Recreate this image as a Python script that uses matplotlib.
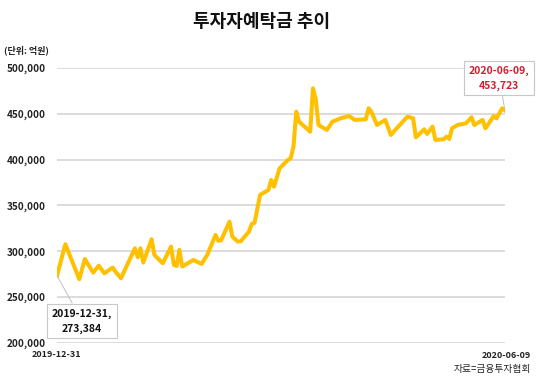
import matplotlib
matplotlib.use("Agg")
import matplotlib.pyplot as plt
import pandas as pd

plt.rcParams['font.family'] = ['Noto Sans CJK KR', 'DejaVu Sans']

# 투자자예탁금 (단위: 억원)
dates = ["2019-12-31", "2020-01-03", "2020-01-08", "2020-01-10", "2020-01-13",
         "2020-01-15", "2020-01-17", "2020-01-20", "2020-01-21", "2020-01-23",
         "2020-01-28", "2020-01-29", "2020-01-30", "2020-01-31", "2020-02-03",
         "2020-02-04", "2020-02-07", "2020-02-10", "2020-02-11", "2020-02-12",
         "2020-02-13", "2020-02-14", "2020-02-18", "2020-02-21", "2020-02-23",
         "2020-02-26", "2020-02-27", "2020-02-28", "2020-03-02", "2020-03-03",
         "2020-03-05", "2020-03-06", "2020-03-09", "2020-03-10", "2020-03-11",
         "2020-03-13", "2020-03-16", "2020-03-17", "2020-03-18", "2020-03-20",
         "2020-03-23", "2020-03-24", "2020-03-25", "2020-03-26", "2020-03-27",
         "2020-03-31", "2020-04-01", "2020-04-02", "2020-04-03", "2020-04-06",
         "2020-04-08", "2020-04-11", "2020-04-14", "2020-04-16", "2020-04-20",
         "2020-04-21", "2020-04-22", "2020-04-24", "2020-04-27", "2020-04-29",
         "2020-05-01", "2020-05-05", "2020-05-07", "2020-05-08", "2020-05-11",
         "2020-05-12", "2020-05-14", "2020-05-15", "2020-05-18", "2020-05-19",
         "2020-05-20", "2020-05-21", "2020-05-23", "2020-05-26", "2020-05-28",
         "2020-05-29", "2020-06-01", "2020-06-02", "2020-06-05", "2020-06-06",
         "2020-06-08", "2020-06-09"]
deposits = [273384, 307700, 269500, 291600, 276700,
            284300, 276000, 282200, 277800, 270500,
            303300, 293500, 303300, 287600, 313100,
            296000, 286900, 305100, 285100, 284000,
            301500, 283300, 290500, 286200, 296000,
            317800, 311300, 312000, 332300, 316000,
            310500, 310800, 321400, 329800, 331000,
            361500, 366900, 377800, 370400, 390500,
            399600, 401500, 414200, 452300, 441400,
            430500, 477800, 465800, 437800, 432400,
            441400, 445100, 447600, 443300, 444000,
            456000, 452300, 437800, 443300, 426900,
            433800, 446900, 445100, 424400, 433100,
            428000, 436000, 421500, 422200, 425000,
            422500, 434200, 437800, 439600, 446200,
            437800, 443300, 434200, 447600, 445000,
            456000, 453723]
yticks = [200000, 250000, 300000, 350000, 400000, 450000, 500000]

x = pd.to_datetime(dates)

fig = plt.figure(figsize=(5.4, 3.84), dpi=100)
ax = fig.add_axes([0.1056, 0.107, 0.8294, 0.716])

ax.plot(x, deposits, color='#FFC000', lw=2.9, solid_joinstyle='round', zorder=3)

ax.set_ylim(200000, 500000)
ax.set_xlim(x[0], x[-1])
ax.set_yticks(yticks)
ax.set_yticklabels([f"{v:,}" for v in yticks], fontsize=7.2, fontweight='bold', color='#222222')
ax.tick_params(axis='y', length=0, pad=8)
ax.set_xticks([])
ax.grid(axis='y', color='#d9d9d9', lw=1.3)
for s in ax.spines.values():
    s.set_visible(False)

# 첫 값, 마지막 값 표시
ax.annotate(f"{dates[0]},\n{deposits[0]:,}", xy=(x[0], deposits[0]),
            xytext=(x[0] + pd.Timedelta(days=9), 224000), ha='center', va='center',
            fontsize=7.5, fontweight='bold', color='#111111', linespacing=1.6,
            bbox=dict(boxstyle='square,pad=0.45', fc='white', ec='#c8c8c8', lw=0.8),
            arrowprops=dict(arrowstyle='-', color='#c0c0c0', lw=0.7,
                            shrinkA=0, shrinkB=0), zorder=5)
ax.annotate(f"{dates[-1]},\n{deposits[-1]:,}", xy=(x[-1], deposits[-1]),
            xytext=(x[-1] - pd.Timedelta(days=2), 489000), ha='center', va='center',
            fontsize=7.5, fontweight='bold', color='#D02030', linespacing=1.6,
            bbox=dict(boxstyle='square,pad=0.45', fc='white', ec='#c8c8c8', lw=0.8),
            arrowprops=dict(arrowstyle='-', color='#c0c0c0', lw=0.7,
                            shrinkA=0, shrinkB=0), zorder=5, annotation_clip=False)

fig.text(0.485, 0.943, "투자자예탁금 추이", ha='center', va='center',
         fontsize=13, fontweight='bold', color='#111111')
fig.text(0.008, 0.87, "(단위: 억원)", ha='left', va='center', fontsize=6.5,
         fontweight='bold', color='#222222')
fig.text(0.105, 0.077, dates[0], ha='center', va='center', fontsize=6.5,
         fontweight='bold', color='#222222')
fig.text(0.983, 0.075, dates[-1], ha='right', va='center', fontsize=6.5,
         fontweight='bold', color='#222222')
fig.text(0.983, 0.038, "자료=금융투자협회", ha='right', va='center', fontsize=7,
         color='#222222')

fig.savefig("out.png", dpi=100)
